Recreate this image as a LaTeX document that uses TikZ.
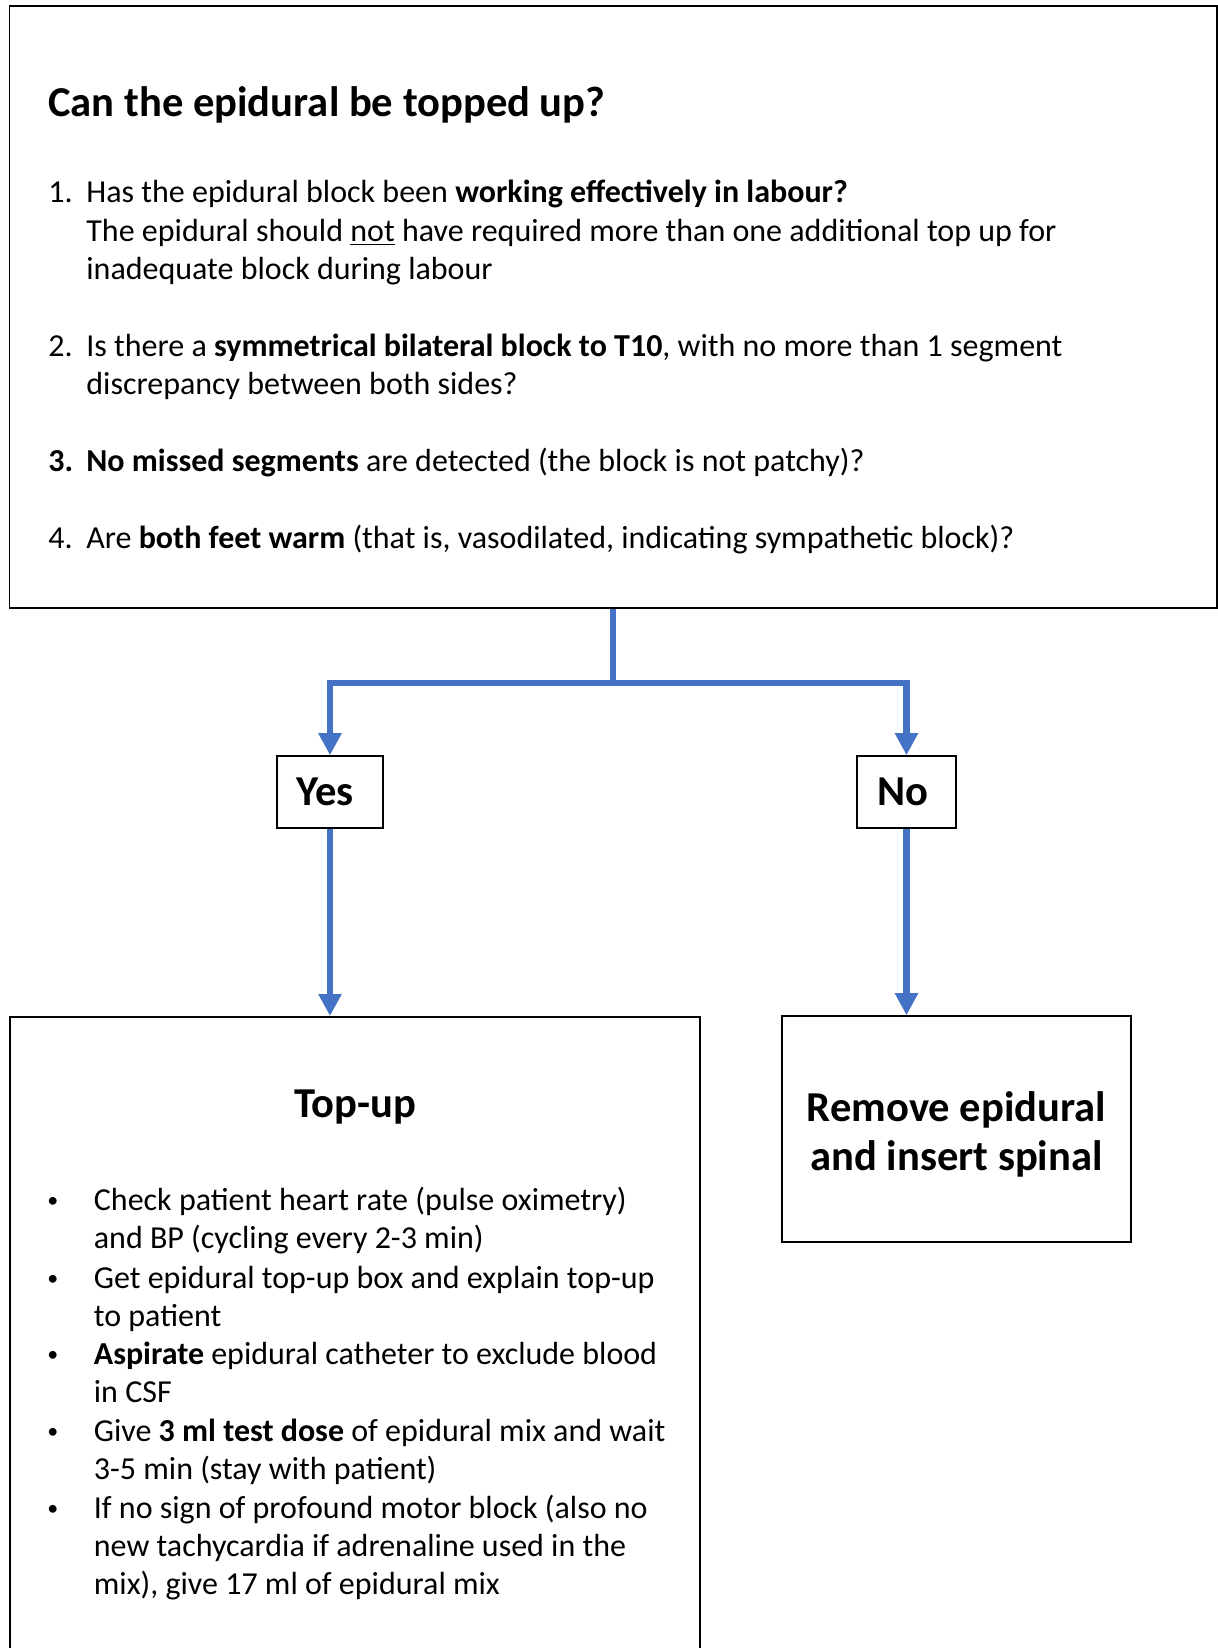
\documentclass[tikz,border=0pt]{standalone}
\usepackage{fontspec}
\setmainfont{Carlito}
\usetikzlibrary{arrows.meta}
\definecolor{flowblue}{HTML}{4472C4}
\newcommand{\toplines}[1]{\parbox[t]{560pt}{\raggedright #1}}
\tikzset{
  panel/.style={draw, line width=0.8pt, rectangle, inner sep=0pt},
  answer/.style={panel, minimum height=36pt, font=\fontsize{21.3}{25}\selectfont\bfseries},
  txt/.style={anchor=base west, inner sep=0pt, font=\fontsize{16}{19.2}\selectfont},
  dot/.style={anchor=base west, inner sep=0pt, font=\fontsize{11}{12}\selectfont},
  heading/.style={inner sep=0pt, align=center, font=\fontsize{21.3}{24.7}\selectfont\bfseries},
  flow/.style={draw=flowblue, line width=3.2pt, -{Triangle[length=11pt,width=11pt]}}
}
\begin{document}
\begin{tikzpicture}[x=0.5pt, y=-0.5pt]
  \useasboundingbox (0,0) rectangle (1218,1648);
  % question box
  \node[panel, minimum width=603.75pt, minimum height=301pt] (q) at (613.25,307) {};
  \node[heading, anchor=base west] (qtitle) at (48,117) {Can the epidural be topped up?};
  \node[txt] (n1) at (48,203) {1.};
  \node[txt] (t1) at (86,203) {\toplines{Has the epidural block been \textbf{working effectively in labour?}\\
    The epidural should \underline{not} have required more than one additional top up for\\
    inadequate block during labour}};
  \node[txt] (n2) at (48,356) {2.};
  \node[txt] (t2) at (86,356) {\toplines{Is there a \textbf{symmetrical bilateral block to T10}, with no more than 1 segment\\
    discrepancy between both sides?}};
  \node[txt] (n3) at (48,471) {\textbf{3.}};
  \node[txt] (t3) at (86,471) {\textbf{No missed segments} are detected (the block is not patchy)?};
  \node[txt] (n4) at (48,548) {4.};
  \node[txt] (t4) at (86,548) {Are \textbf{both feet warm} (that is, vasodilated, indicating sympathetic block)?};

  % answers
  \node[answer, minimum width=53pt, text depth=0pt] (yes) at (330,792) {\hspace*{-5pt}Yes};
  \node[answer, minimum width=49.5pt, text depth=0pt] (no) at (906.5,792) {\hspace*{-4pt}No};
  \coordinate (split) at (613.25,683);
  \draw[flow] (q.south) -- (split) -| (yes.north);
  \draw[flow] (split) -| (no.north);

  % outcomes
  \node[panel, minimum width=345pt, minimum height=400pt, anchor=north] (topup) at (355,1016) {};
  \node[heading, anchor=base] (topuptitle) at (355,1117) {Top-up};
  \node[panel, minimum width=174.5pt, minimum height=113pt] (remove) at (956.5,1129) {};
  \node[heading, anchor=base] (removetext) at (956.5,1121) {\parbox[t]{170pt}{\centering Remove epidural\\and insert spinal}};
  \draw[flow] (yes.south) -- (yes.south |- topup.north);
  \draw[flow] (no.south) -- (no.south |- remove.north);

  % top-up steps
  \foreach \y/\s [count=\i] in {
      1210/{Check patient heart rate (pulse oximetry)\\and BP (cycling every 2-3 min)},
      1288/{Get epidural top-up box and explain top-up\\to patient},
      1364/{\textbf{Aspirate} epidural catheter to exclude blood\\in CSF},
      1441/{Give \textbf{3 ml test dose} of epidural mix and wait\\3-5 min (stay with patient)},
      1518/{If no sign of profound motor block (also no\\new tachycardia if adrenaline used in the\\mix), give 17 ml of epidural mix}} {
    \node[dot] (b\i) at (47,\y) {\raisebox{1.2pt}{•}};
    \node[txt] (s\i) at (93.5,\y) {\toplines{\s}};
  }
\end{tikzpicture}
\end{document}
